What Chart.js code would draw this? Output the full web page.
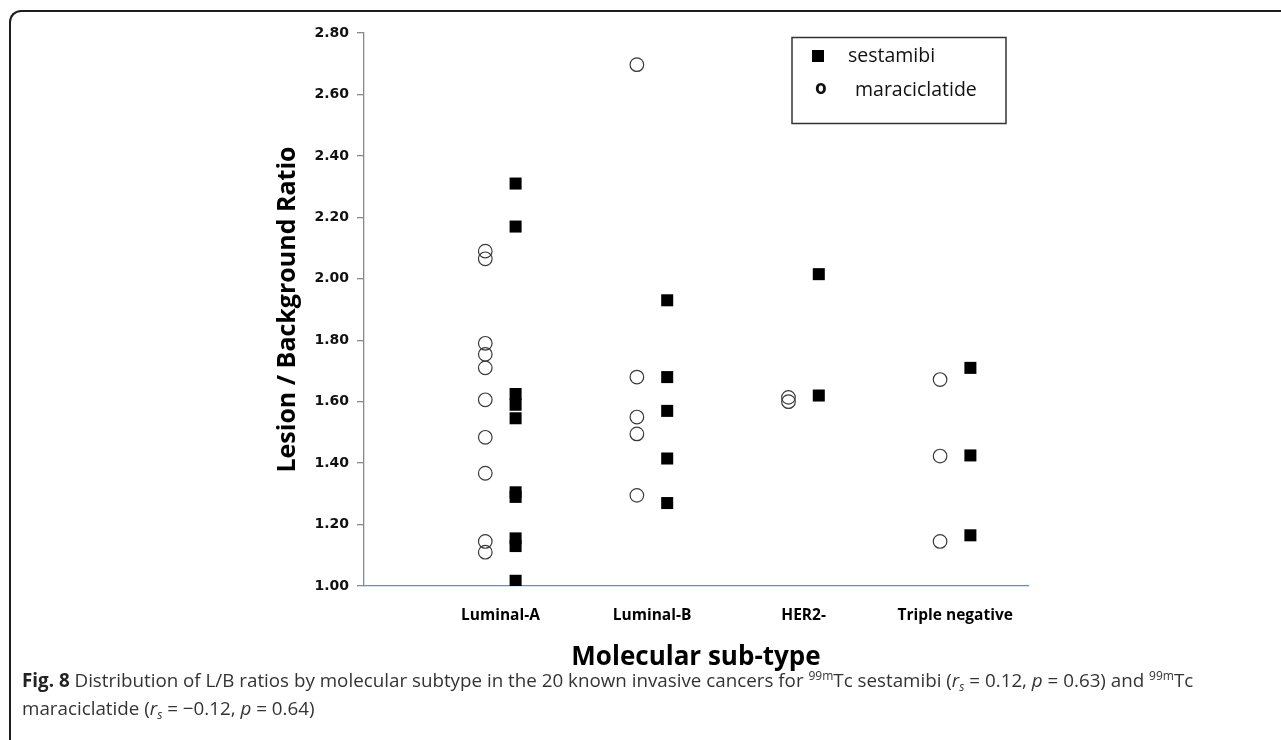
<!DOCTYPE html>
<html>
<head>
<meta charset="utf-8">
<script src="https://cdn.jsdelivr.net/npm/chart.js@4.4.0/dist/chart.umd.min.js"></script>
<style>
  html, body { margin: 0; padding: 0; background: #ffffff; }
  body { width: 1281px; height: 740px; position: relative; overflow: hidden; }
  #frame { position: absolute; left: 9px; top: 10px; width: 1400px; height: 800px;
           border-top: 2px solid #1e1e1e; border-left: 2px solid #1e1e1e; border-top-left-radius: 12px; box-sizing: border-box; }
  #chart { position: absolute; left: 0; top: 0; }
  #caption { position: absolute; left: 22px; top: 666px; width: 1250px; font-family: "Open Sans", sans-serif;
             font-size: 18.8px; line-height: 28px; color: #333333; white-space: nowrap; }
  #caption b { color: #222; }
  #caption sup { font-size: 12px; vertical-align: 7px; line-height: 0; }
  #caption sub { font-size: 12px; vertical-align: -4px; line-height: 0; }
</style>
</head>
<body>
<div id="frame"></div>
<canvas id="chart" width="1281" height="740"></canvas>
<div id="caption"><b>Fig. 8</b> Distribution of L/B ratios by molecular subtype in the 20 known invasive cancers for <sup>99m</sup>Tc sestamibi (<i>r</i><sub><i>s</i></sub> = 0.12, <i>p</i> = 0.63) and <sup>99m</sup>Tc<br>maraciclatide (<i>r</i><sub><i>s</i></sub> = −0.12, <i>p</i> = 0.64)</div>
<script>
// ---- data ----
const categories = ['Luminal-A', 'Luminal-B', 'HER2-', 'Triple negative'];
const sestamibiLuminalA = [2.31, 2.17, 1.625, 1.59, 1.546, 1.305, 1.29, 1.155, 1.13, 1.017];
const sestamibiLuminalB = [1.93, 1.68, 1.57, 1.415, 1.27];
const sestamibiHER2 = [2.015, 1.62];
const sestamibiTripleNeg = [1.71, 1.425, 1.165];
const maraciclatideLuminalA = [2.09, 2.065, 1.79, 1.754, 1.71, 1.606, 1.484, 1.367, 1.145, 1.11];
const maraciclatideLuminalB = [2.697, 1.68, 1.55, 1.495, 1.295];
const maraciclatideHER2 = [1.614, 1.6];
const maraciclatideTripleNeg = [1.672, 1.423, 1.145];
const yTickValues = [1.0, 1.2, 1.4, 1.6, 1.8, 2.0, 2.2, 2.4, 2.6, 2.8];
const seriesNames = ['sestamibi', 'maraciclatide'];

const sestamibi = [sestamibiLuminalA, sestamibiLuminalB, sestamibiHER2, sestamibiTripleNeg];
const maraciclatide = [maraciclatideLuminalA, maraciclatideLuminalB, maraciclatideHER2, maraciclatideTripleNeg];

function toPoints(groups, shift) {
  const pts = [];
  groups.forEach((vals, i) => vals.forEach(v => pts.push({ x: i + 1 + shift, y: v })));
  return pts;
}

const legendPlugin = {
  id: 'boxLegend',
  afterDraw(chart) {
    const ctx = chart.ctx;
    ctx.save();
    ctx.strokeStyle = '#333';
    ctx.lineWidth = 1.5;
    ctx.strokeRect(792, 37.5, 214, 86);
    ctx.fillStyle = '#000';
    ctx.fillRect(812, 50, 12, 12);
    ctx.fillStyle = '#111';
    ctx.textBaseline = 'middle';
    ctx.textAlign = 'left';
    ctx.font = '19.5px "Open Sans"';
    ctx.fillText(seriesNames[0], 848, 56);
    ctx.fillText(seriesNames[1], 855, 90);
    ctx.font = 'bold 19px "Open Sans"';
    ctx.textAlign = 'center';
    ctx.fillText('o', 821, 89);
    ctx.restore();
  }
};

new Chart(document.getElementById('chart'), {
  type: 'scatter',
  data: {
    datasets: [
      {
        label: seriesNames[0],
        data: toPoints(sestamibi, 0.1),
        pointStyle: 'rect',
        radius: 8.5,
        backgroundColor: '#000000',
        borderColor: '#000000',
        borderWidth: 0
      },
      {
        label: seriesNames[1],
        data: toPoints(maraciclatide, -0.1),
        pointStyle: 'circle',
        radius: 6.8,
        backgroundColor: 'rgba(0,0,0,0)',
        borderColor: '#3a3a3a',
        borderWidth: 1.2
      }
    ]
  },
  options: {
    responsive: false,
    animation: false,
    events: [],
    layout: { padding: { top: 33, right: 253, left: 0, bottom: 0 } },
    plugins: { legend: { display: false }, tooltip: { enabled: false } },
    scales: {
      x: {
        type: 'linear',
        min: 0.1,
        max: 4.48,
        afterBuildTicks: (s) => { s.ticks = categories.map((c, i) => ({ value: i + 1 })); },
        afterFit: (s) => { s.height = 154; },
        grid: { display: false, drawTicks: false },
        border: { display: true, color: '#5b8fd6', width: 1.3 },
        ticks: {
          autoSkip: false, maxRotation: 0, padding: 20,
          color: '#000',
          font: { family: '"Open Sans"', weight: 'bold', size: 15.5 },
          callback: (v) => categories[Math.round(v) - 1] || ''
        },
        title: {
          display: true, text: 'Molecular sub-type', color: '#000',
          font: { family: '"Open Sans"', weight: 'bold', size: 26 },
          padding: { top: 0, bottom: 67 }
        }
      },
      y: {
        min: 1.0,
        max: 2.8,
        afterBuildTicks: (s) => { s.ticks = yTickValues.map(v => ({ value: v })); },
        afterFit: (s) => { s.width = 364; },
        grid: { display: true, drawOnChartArea: false, drawTicks: true, tickLength: 7, color: '#8a8a8a', lineWidth: 1.3 },
        border: { display: true, color: '#8a8a8a', width: 1.3 },
        ticks: {
          padding: 8,
          color: '#111',
          font: { family: '"DejaVu Sans"', weight: 'bold', size: 14 },
          callback: (v) => Number(v).toFixed(2)
        },
        title: {
          display: true, text: 'Lesion / Background Ratio', color: '#000',
          font: { family: '"Open Sans"', weight: 'bold', size: 25 },
          padding: { top: 273, bottom: 0 }
        }
      }
    }
  },
  plugins: [legendPlugin]
});
</script>
</body>
</html>
